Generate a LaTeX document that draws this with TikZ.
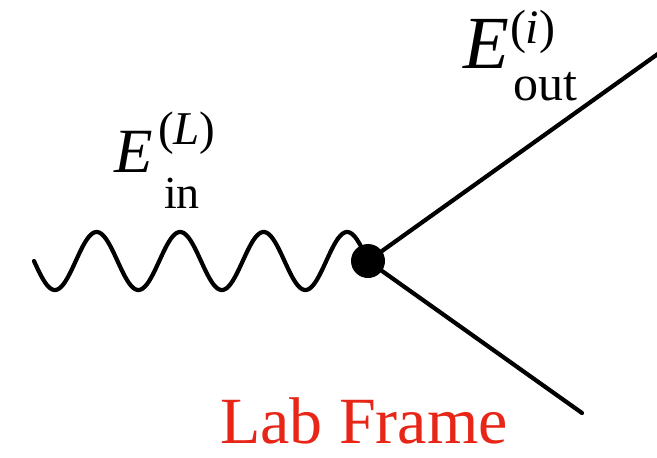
\documentclass[tikz,border=0pt]{standalone}
\usepackage{fontspec}
\setmainfont{Liberation Serif}
\definecolor{labred}{RGB}{232,38,24}
\tikzset{
  lineseg/.style={line width=4.2pt, line cap=round},
  dotnode/.style={circle, fill=black, inner sep=0pt, minimum size=34pt},
  txt/.style={anchor=base west, inner sep=0pt, outer sep=0pt},
}
\newcommand{\fs}[1]{\fontsize{#1}{#1}\selectfont}
\begin{document}
\begin{tikzpicture}[x=1pt,y=-1pt]
\useasboundingbox (0,0) rectangle (657,458);
% wave
\coordinate (w) at (34,261);
\node[dotnode] (v) at (368,261) {};
\draw[lineseg, line join=round] plot[domain=34:368, samples=240, smooth] (\x, {261+29*sin(4.3114*(\x-34))});
% outgoing lines
\coordinate (a) at (662,51);
\coordinate (b) at (582,413);
\draw[lineseg] (v.center) -- (a);
\draw[lineseg] (v.center) -- (b);
% labels
\node[txt] (ein) at (114,172) {\fs{63}\itshape E};
\node[txt] (einsup) at (158,144) {\fs{47}(\textit{L})};
\node[txt] (einsub) at (164,208) {\fs{46}in};
\node[txt] (eout) at (463,68) {\fs{75}\itshape E};
\node[txt] (eoutsup) at (510,43) {\fs{48}(\textit{i})};
\node[txt] (eoutsub) at (513,100) {\fs{50}out};
\node[txt, text=labred] (lab) at (220,443) {\fs{66}Lab Frame};
\end{tikzpicture}
\end{document}
